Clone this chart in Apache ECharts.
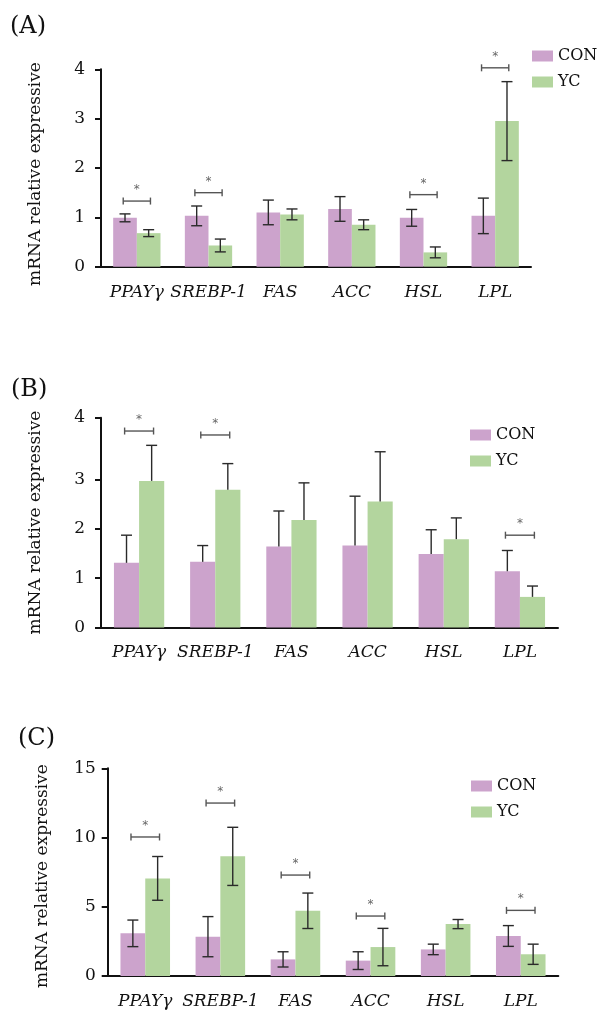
<!DOCTYPE html>
<html><head><meta charset="utf-8">
<script src="https://cdn.jsdelivr.net/npm/echarts@6/dist/echarts.min.js"></script>
<style>html,body{margin:0;padding:0;background:#fff}#c{width:598px;height:1017px}</style>
</head><body><div id="c"></div>
<script>
const categories = ['PPAYγ','SREBP-1','FAS','ACC','HSL','LPL'];
const seriesNames = ['CON','YC'];
// Panel A
const conA = [0.99,1.03,1.10,1.17,0.99,1.03];
const conErrA = [0.08,0.20,0.25,0.25,0.17,0.36];
const ycA = [0.68,0.43,1.06,0.85,0.29,2.95];
const ycErrA = [0.07,0.13,0.11,0.10,0.11,0.80];
const sigA = [[0,1.33],[1,1.50],[4,1.46],[5,4.03]];
const yTicksA = [0,1,2,3,4];
// Panel B (one-sided error bars; the top label "4" sits at the axis end as in the original)
const conB = [1.31,1.33,1.64,1.66,1.49,1.14];
const conErrB = [0.56,0.33,0.72,1.00,0.49,0.42];
const ycB = [2.97,2.79,2.18,2.55,1.79,0.62];
const ycErrB = [0.72,0.53,0.75,1.01,0.43,0.22];
const sigB = [[0,3.98],[1,3.90],[5,1.87]];
const yTickValuesB = [0,1,2,3,4.25];
const yTickLabelsB = ['0','1','2','3','4'];
// Panel C
const conC = [3.08,2.84,1.20,1.11,1.92,2.89];
const conErrC = [0.96,1.45,0.55,0.64,0.38,0.75];
const ycC = [7.05,8.64,4.71,2.09,3.75,1.57];
const ycErrC = [1.58,2.10,1.28,1.35,0.33,0.73];
const sigC = [[0,10.04],[1,12.49],[2,7.29],[3,4.33],[5,4.74]];
const yTicksC = [0,5,10,15];

const panelLabels = ['(A)','(B)','(C)'];
const yName = 'mRNA relative expressive';

const SERIF = 'DejaVu Serif';
const COL_CON = '#cca3cc';
const COL_YC = '#b3d59e';
const BAR_FRAC = 0.33;

function errorSeries(idx, vals, errs, side, twoSided){
  return {
    type:'custom', xAxisIndex:idx, yAxisIndex:idx, z:5, silent:true,
    data: vals.map((v,i)=>[i, v, errs[i]]),
    encode:{x:0, y:1},
    renderItem(params, api){
      const i = api.value(0), v = api.value(1), e = api.value(2);
      const bw = api.size([1,0])[0];
      const off = side * bw * BAR_FRAC / 2;
      const top = api.coord([i, v + e]);
      const bot = api.coord([i, twoSided ? v - e : v]);
      const x = top[0] + off;
      const cap = 5.5;
      const style = {stroke:'#2a2a2a', lineWidth:1.4};
      const ch = [
        {type:'line', shape:{x1:x, y1:top[1], x2:x, y2:bot[1]}, style},
        {type:'line', shape:{x1:x-cap, y1:top[1], x2:x+cap, y2:top[1]}, style}
      ];
      if (twoSided) ch.push({type:'line', shape:{x1:x-cap, y1:bot[1], x2:x+cap, y2:bot[1]}, style});
      return {type:'group', children:ch};
    }
  };
}

function sigSeries(idx, sig){
  return {
    type:'custom', xAxisIndex:idx, yAxisIndex:idx, z:6, silent:true,
    data: sig, encode:{x:0, y:1},
    renderItem(params, api){
      const i = api.value(0), y = api.value(1);
      const bw = api.size([1,0])[0];
      const p = api.coord([i, y]);
      const hw = bw * 0.19;
      const style = {stroke:'#555', lineWidth:1.4};
      return {type:'group', children:[
        {type:'line', shape:{x1:p[0]-hw, y1:p[1], x2:p[0]+hw, y2:p[1]}, style},
        {type:'line', shape:{x1:p[0]-hw, y1:p[1]-3.5, x2:p[0]-hw, y2:p[1]+3.5}, style},
        {type:'line', shape:{x1:p[0]+hw, y1:p[1]-3.5, x2:p[0]+hw, y2:p[1]+3.5}, style},
        {type:'text', style:{text:'*', x:p[0], y:p[1]-11, fill:'#666', font:'12px DejaVu Sans', align:'center', verticalAlign:'middle'}}
      ]};
    }
  };
}

function barSeries(idx, name, vals, color){
  return {
    type:'bar', name, xAxisIndex:idx, yAxisIndex:idx, data:vals,
    barWidth:(BAR_FRAC*100)+'%', barGap:'0%', z:2,
    itemStyle:{color}, emphasis:{disabled:true}
  };
}

const grids = [
  {left:101, top:69.3, width:430, height:197.4},
  {left:101, top:417.7, width:457, height:209.8},
  {left:107.7, top:768.3, width:450.6, height:207.7}
];

const axisLineStyle = {color:'#111', width:2};

const xAxes = grids.map((g,i)=>({
  type:'category', gridIndex:i, data:categories,
  axisLine:{lineStyle:axisLineStyle},
  axisTick:{alignWithLabel:true, length:6, lineStyle:axisLineStyle},
  axisLabel:{interval:0, hideOverlap:false, fontFamily:SERIF, fontStyle:'italic', fontSize:17, color:'#111', margin:17}
}));

function yAxisBase(i, labelMargin, namePad){
  return {
    type:'value', gridIndex:i, min:0,
    name:yName, nameLocation:'middle', nameGap:57,
    nameTextStyle:{fontFamily:SERIF, fontSize:17, color:'#111', padding:namePad},
    axisLine:{show:true, lineStyle:axisLineStyle},
    axisTick:{show:true, length:6, lineStyle:axisLineStyle},
    splitLine:{show:false},
    axisLabel:{fontFamily:SERIF, fontSize:17, color:'#111', margin:labelMargin}
  };
}
const yA = Object.assign(yAxisBase(0, 16, [0,12,0,0]), {max:yTicksA[yTicksA.length-1], interval:1});
const yB = yAxisBase(1, 16, 0);
yB.max = yTickValuesB[yTickValuesB.length-1];
yB.axisTick = Object.assign({}, yB.axisTick, {customValues:yTickValuesB});
yB.axisLabel = Object.assign({}, yB.axisLabel, {
  customValues:yTickValuesB,
  formatter:(v)=>{ const k = yTickValuesB.indexOf(v); return k>=0 ? yTickLabelsB[k] : ''; }
});
const yC = Object.assign(yAxisBase(2, 12, [0,8,0,0]), {max:yTicksC[yTicksC.length-1], interval:5});

const legendCommon = {
  orient:'vertical', icon:'rect', itemWidth:21, itemHeight:11, itemGap:10, itemTextGap:8,
  data:seriesNames, selectedMode:false,
  textStyle:{fontFamily:SERIF, fontSize:16, color:'#111'}
};

const option = {
  animation:false,
  backgroundColor:'#fff',
  title: [
    {text:panelLabels[0], left:5, top:10},
    {text:panelLabels[1], left:6, top:373},
    {text:panelLabels[2], left:13, top:722}
  ].map(t=>Object.assign(t,{textStyle:{fontFamily:SERIF, fontSize:24, fontWeight:'normal', color:'#111'}})),
  legend:[
    Object.assign({left:527, top:43}, legendCommon),
    Object.assign({left:465, top:422}, legendCommon),
    Object.assign({left:466, top:773}, legendCommon)
  ],
  grid:grids,
  xAxis:xAxes,
  yAxis:[yA, yB, yC],
  series:[
    barSeries(0,'CON',conA,COL_CON), barSeries(0,'YC',ycA,COL_YC),
    errorSeries(0,conA,conErrA,-1,true), errorSeries(0,ycA,ycErrA,1,true), sigSeries(0,sigA),
    barSeries(1,'CON',conB,COL_CON), barSeries(1,'YC',ycB,COL_YC),
    errorSeries(1,conB,conErrB,-1,false), errorSeries(1,ycB,ycErrB,1,false), sigSeries(1,sigB),
    barSeries(2,'CON',conC,COL_CON), barSeries(2,'YC',ycC,COL_YC),
    errorSeries(2,conC,conErrC,-1,true), errorSeries(2,ycC,ycErrC,1,true), sigSeries(2,sigC)
  ]
};
const chart = echarts.init(document.getElementById('c'), null, {renderer:'canvas'});
chart.setOption(option);
</script>
</body></html>
